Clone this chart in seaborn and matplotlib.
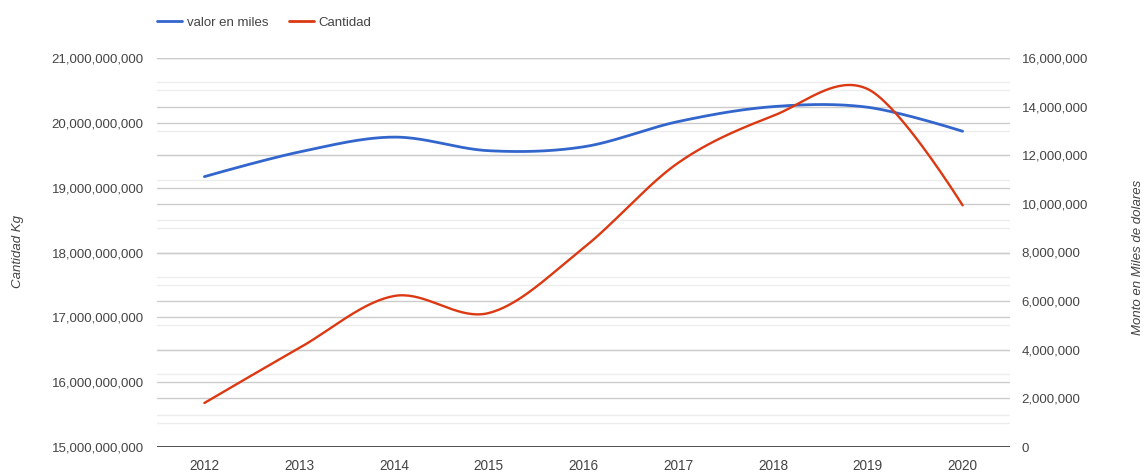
import numpy as np
import pandas as pd
import seaborn as sns
import matplotlib
matplotlib.use("Agg")
import matplotlib.pyplot as plt
from matplotlib.lines import Line2D
from matplotlib.transforms import blended_transform_factory
from matplotlib.ticker import FuncFormatter

# ---------------- data ----------------
years = [2012, 2013, 2014, 2015, 2016, 2017, 2018, 2019, 2020]
valor_en_miles = [19.17e9, 19.55e9, 19.78e9, 19.57e9, 19.63e9, 20.02e9, 20.25e9, 20.24e9, 19.87e9]
cantidad = [1.81e6, 4.07e6, 6.21e6, 5.51e6, 8.19e6, 11.69e6, 13.62e6, 14.72e6, 9.94e6]
left_ticks = [15e9, 16e9, 17e9, 18e9, 19e9, 20e9, 21e9]
right_ticks = [0, 2e6, 4e6, 6e6, 8e6, 10e6, 12e6, 14e6, 16e6]
year_labels = [str(y) for y in years]

BLUE = "#3366cc"
RED = "#dc3912"
TXT = "#444444"


def smooth(xs, ys, n=40):
    """Bezier smoothing through the data points (like curveType 'function')."""
    P = np.column_stack([xs, ys]).astype(float)
    T = np.zeros_like(P)
    T[1:-1] = (P[2:] - P[:-2]) / 2.0
    xo, yo = [], []
    for i in range(len(P) - 1):
        p0, p3 = P[i], P[i + 1]
        p1 = p0 + T[i] / 3.0
        p2 = p3 - T[i + 1] / 3.0
        t = np.linspace(0, 1, n)[:, None]
        if i < len(P) - 2:
            t = t[:-1]
        B = ((1 - t) ** 3) * p0 + 3 * ((1 - t) ** 2) * t * p1 + 3 * (1 - t) * t ** 2 * p2 + t ** 3 * p3
        xo.extend(B[:, 0])
        yo.extend(B[:, 1])
    return np.array(xo), np.array(yo)


sns.set_theme(style="white")
plt.rcParams["font.family"] = ["Liberation Sans", "DejaVu Sans"]

W, H = 1145, 475
fig = plt.figure(figsize=(W / 100, H / 100), dpi=100)
fig.subplots_adjust(left=157 / W, right=1010 / W, top=1 - 58 / H, bottom=1 - 447 / H)
ax1 = fig.add_subplot(111)
ax2 = ax1.twinx()

ax1.set_xlim(2011.5, 2020.5)
ax1.set_ylim(left_ticks[0], left_ticks[-1])
ax2.set_ylim(right_ticks[0], right_ticks[-1])

# gridlines (both axes drawn on ax1, behind lines)
tr2 = blended_transform_factory(ax1.transAxes, ax2.transData)
lstep = left_ticks[1] - left_ticks[0]
rstep = right_ticks[1] - right_ticks[0]
for v in left_ticks[:-1]:
    ax1.axhline(v + lstep / 2, color="#ededed", lw=1, zorder=0)
for v in right_ticks[:-1]:
    ax1.plot([0, 1], [v + rstep / 2] * 2, transform=tr2, color="#ededed", lw=1, zorder=0)
for v in left_ticks[1:]:
    ax1.axhline(v, color="#cccccc", lw=1, zorder=0.5)
for v in right_ticks[1:]:
    ax1.plot([0, 1], [v] * 2, transform=tr2, color="#cccccc", lw=1, zorder=0.5)
ax1.axhline(left_ticks[0], color="#333333", lw=1.2, zorder=3)

# lines
bx, by = smooth(years, valor_en_miles)
rx, ry = smooth(years, cantidad)
sns.lineplot(x=bx, y=by, ax=ax1, color=BLUE, lw=2, sort=False, estimator=None, zorder=2)
sns.lineplot(x=rx, y=ry, ax=ax2, color=RED, lw=1.7, sort=False, estimator=None, zorder=2)

# ticks
fmt = FuncFormatter(lambda v, p: f"{v:,.0f}")
ax1.set_yticks(left_ticks)
ax1.yaxis.set_major_formatter(fmt)
ax2.set_yticks(right_ticks)
ax2.yaxis.set_major_formatter(fmt)
ax1.set_xticks(years)
ax1.set_xticklabels(year_labels)
ax1.tick_params(axis="y", length=0, pad=9.5, labelsize=9.5, labelcolor=TXT)
ax2.tick_params(axis="y", length=0, pad=8.5, labelsize=9.5, labelcolor=TXT)
ax1.tick_params(axis="x", length=0, pad=9, labelsize=9.8, labelcolor=TXT)
ax1.grid(False)
ax2.grid(False)
for ax in (ax1, ax2):
    for s in ax.spines.values():
        s.set_visible(False)
ax1.set_xlabel("")
ax1.set_ylabel("")
ax2.set_ylabel("")

fig.text(18 / W, 1 - 252 / H, "Cantidad Kg", rotation=90, ha="center", va="center",
         style="italic", fontsize=9.5, color=TXT)
fig.text(1138 / W, 1 - 257 / H, "Monto en Miles de dolares", rotation=90, ha="center",
         va="center", style="italic", fontsize=9.5, color=TXT)

handles = [Line2D([], [], color=BLUE, lw=2), Line2D([], [], color=RED, lw=2)]
fig.legend(handles, ["valor en miles", "Cantidad"], loc="center left",
           bbox_to_anchor=(145 / W, 1 - 23 / H), ncol=2, frameon=False,
           fontsize=9.5, handlelength=1.9, handletextpad=0.4, columnspacing=1.5,
           labelcolor=TXT)

fig.savefig("out.png", dpi=100, facecolor="white")
